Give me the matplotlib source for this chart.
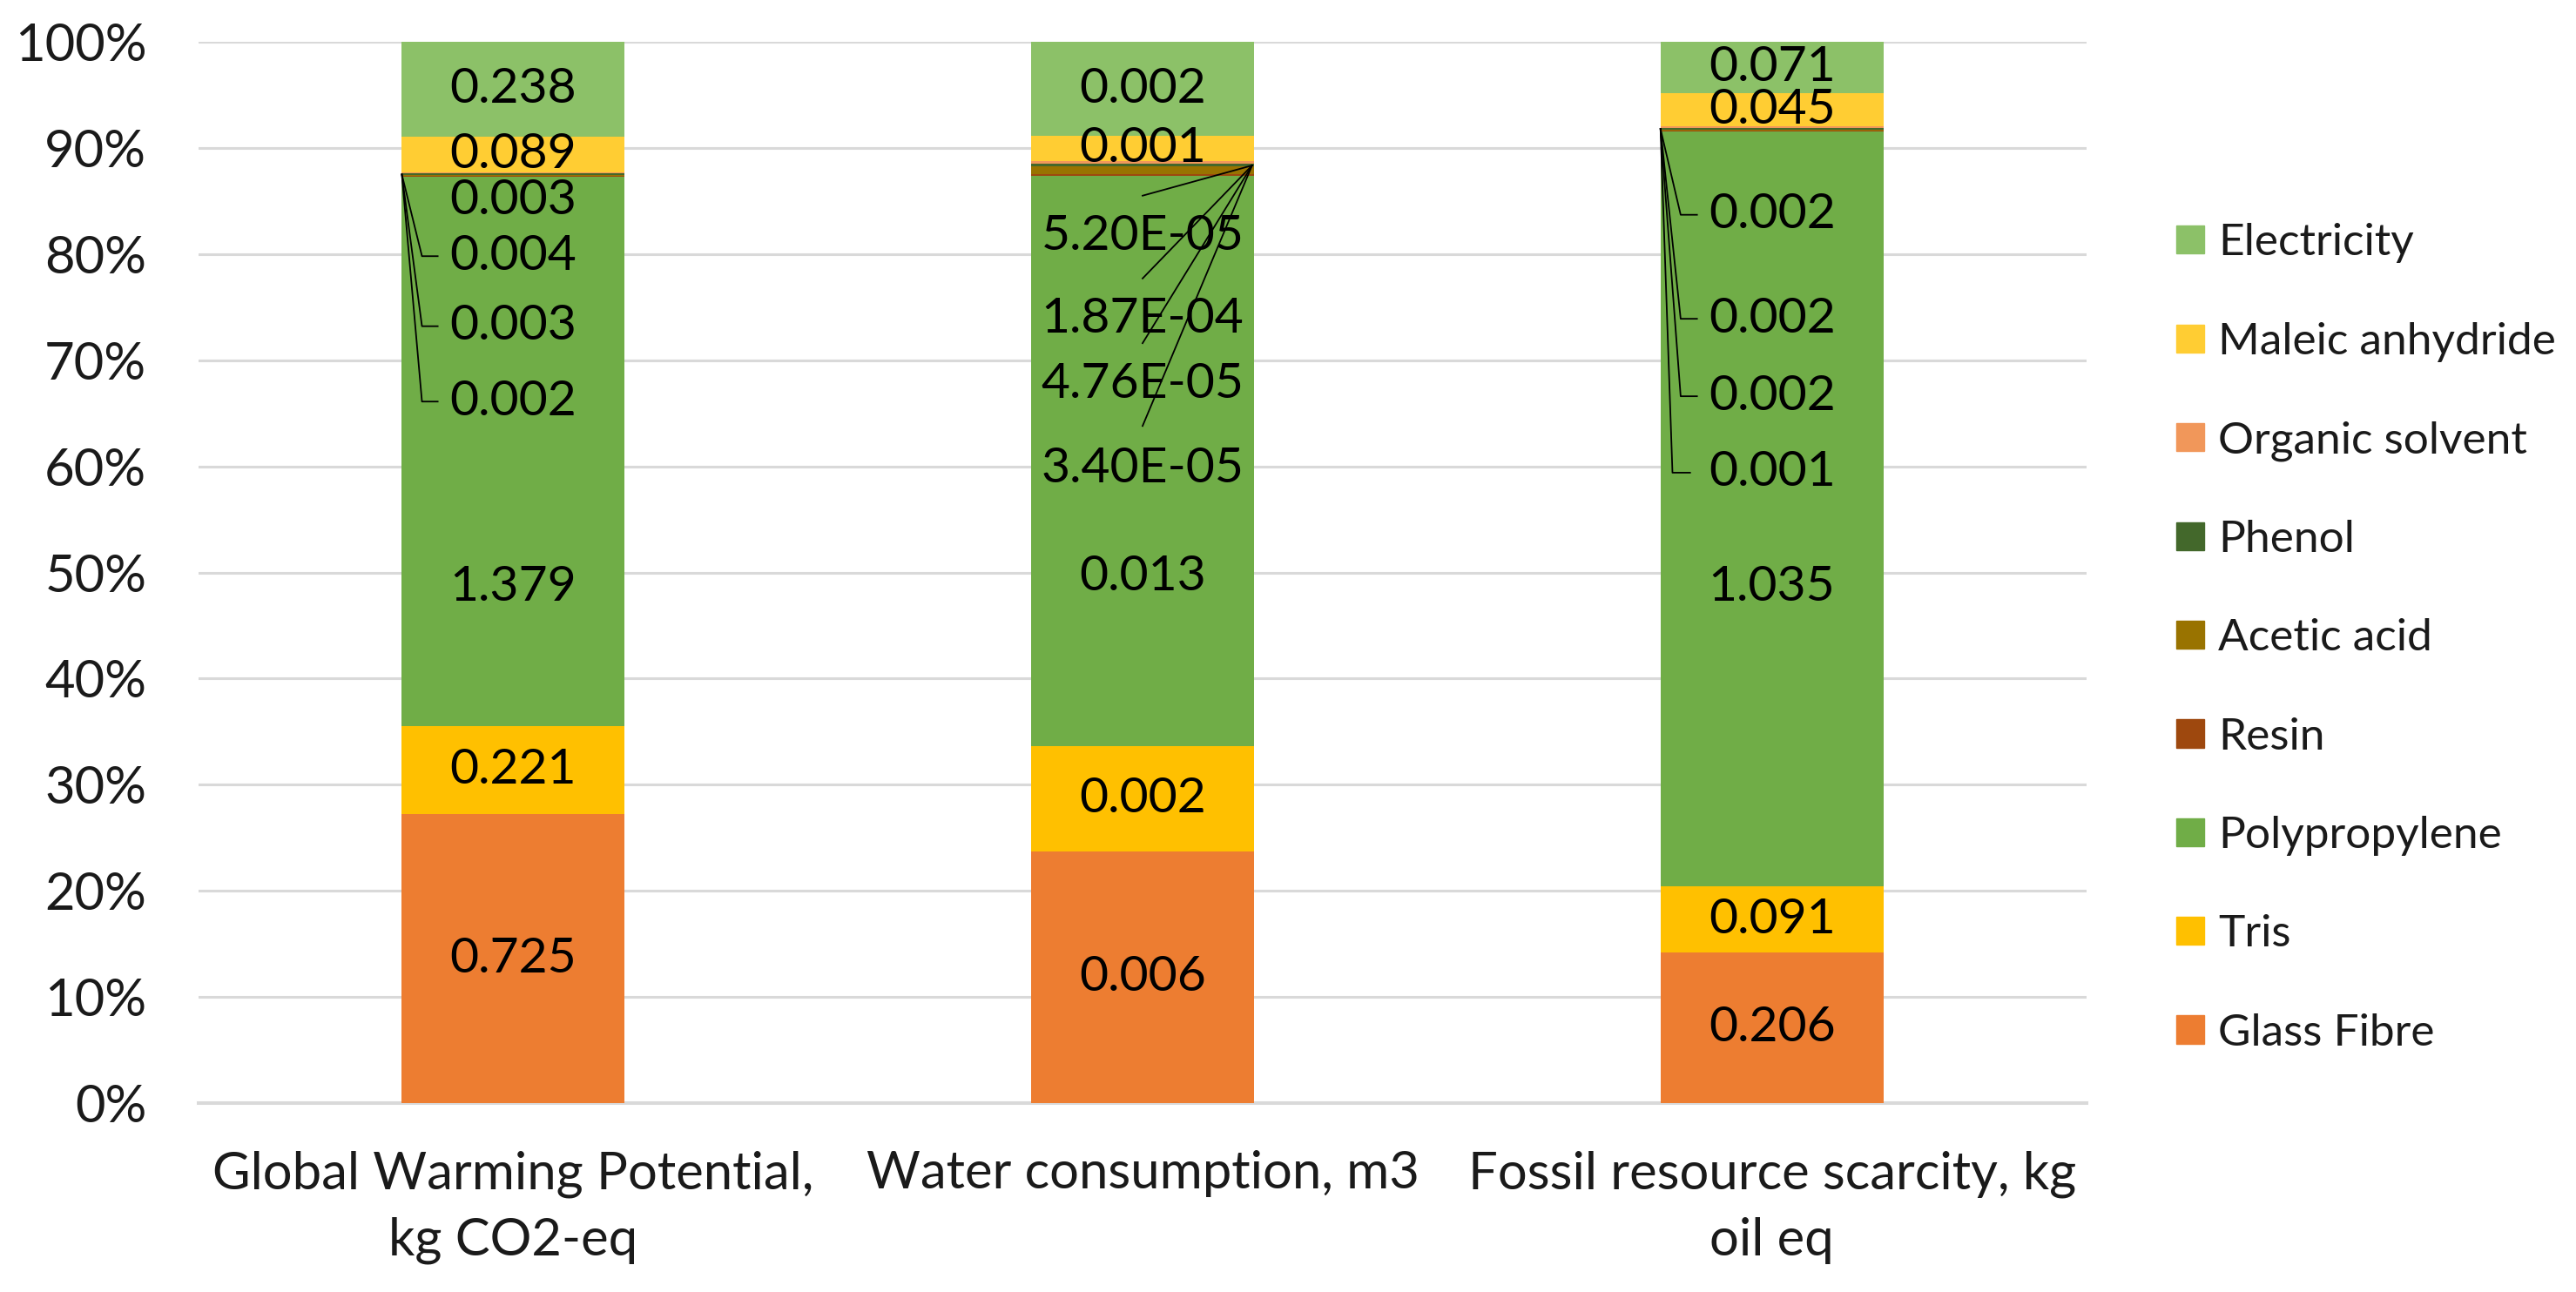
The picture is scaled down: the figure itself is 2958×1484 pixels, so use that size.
import numpy as np
import matplotlib
matplotlib.use("Agg")
import matplotlib.pyplot as plt
from matplotlib.patches import Patch

plt.rcParams['font.family'] = ['Lato', 'DejaVu Sans']

categories = ["Global Warming Potential,\nkg CO2-eq", "Water consumption, m3",
              "Fossil resource scarcity, kg\noil eq"]
series = ["Glass Fibre", "Tris", "Polypropylene", "Resin", "Acetic acid",
          "Phenol", "Organic solvent", "Maleic anhydride", "Electricity"]
colors = ["#ED7D31", "#FFC000", "#70AD47", "#9E480E", "#997300",
          "#43682B", "#F1975A", "#FFCD33", "#8CC168"]

# contributions per impact category, same order as series
gwp = [0.725, 0.221, 1.379, 0.002, 0.003, 0.004, 0.003, 0.089, 0.238]
water = [0.00557, 0.00233, 0.01264, 3.40e-05, 1.87e-04, 4.76e-05, 5.20e-05, 0.00056, 0.00209]
fossil = [0.206, 0.091, 1.035, 0.001, 0.002, 0.002, 0.002, 0.045, 0.071]
data = np.array([gwp, water, fossil])

SMALL = [3, 4, 5, 6]  # resin, acetic acid, phenol, organic solvent
PP = 2

# hand placed label heights (percent) for the moved labels
pp_label_y = [48.6, 49.6, 48.6]
small_label_y = [
    [66.1, 73.2, 79.8, 85.0],
    [59.8, 73.9, 67.7, 81.7],
    [59.4, 66.6, 73.9, 83.7],
]

W, H = 2958, 1484
fig = plt.figure(figsize=(W / 100, H / 100), dpi=100)
ax = fig.add_axes([228 / W, (H - 1267) / H, (2396 - 228) / W, (1267 - 48) / H])

FS = 41
TICK_FS = 43
LEG_FS = 37
TXT = "#1a1a1a"
width = 0.354
x = np.arange(len(categories))
shares = data / data.sum(axis=1, keepdims=True) * 100
bottoms = np.zeros(len(categories))
tops = []
for j, name in enumerate(series):
    ax.bar(x, shares[:, j], width, bottom=bottoms, color=colors[j], label=name, zorder=3)
    bottoms = bottoms + shares[:, j]
    tops.append(bottoms.copy())
tops = np.array(tops)  # series x category


def fmt(v):
    if v < 3e-4:
        return f"{v:.2E}"
    return f"{v:.3f}"


for i in range(len(categories)):
    for j in range(len(series)):
        v = data[i, j]
        if j in SMALL:
            y = small_label_y[i][SMALL.index(j)]
        elif j == PP:
            y = pp_label_y[i]
        else:
            y = tops[j, i] - shares[i, j] / 2
        ax.text(x[i], y, fmt(v), ha="center", va="center", fontsize=FS, color="black", zorder=5)

# leader lines for the tiny segments
lw = 1.3
y0 = (tops[PP] + tops[6]) / 2
# GWP: elbow lines from the left edge
for k in [0, 1, 2]:
    yl = small_label_y[0][k]
    ax.plot([x[0] - width / 2, x[0] - 0.145, x[0] - 0.120], [y0[0], yl, yl],
            color="black", lw=lw, zorder=4)
# Fossil
for k in range(4):
    yl = small_label_y[2][k]
    ex, hx = (-0.158, -0.130) if k == 0 else (-0.145, -0.119)
    ax.plot([x[2] - width / 2, x[2] + ex, x[2] + hx], [y0[2], yl, yl],
            color="black", lw=lw, zorder=4)
# Water: straight lines from the right edge
for yl in [85.5, 77.7, 71.6, 63.8]:
    ax.plot([x[1] + 0.174, x[1]], [y0[1] + 0.3, yl], color="black", lw=lw, zorder=4)

ax.set_xlim(-0.5, 2.5)
ax.set_ylim(0, 100)
ax.set_yticks(np.arange(0, 101, 10))
ax.set_yticklabels([f"{t}%" for t in range(0, 101, 10)])
ax.set_xticks(x)
ax.set_xticklabels(categories, linespacing=1.5)
ax.tick_params(axis="y", length=0, pad=43, labelsize=TICK_FS, labelcolor=TXT)
ax.tick_params(axis="x", length=0, pad=39, labelsize=TICK_FS, labelcolor=TXT)
ax.yaxis.grid(True, color="#D9D9D9", lw=2.2, zorder=0)
ax.set_axisbelow(True)
for s in ["top", "right", "left"]:
    ax.spines[s].set_visible(False)
ax.spines["bottom"].set_color("#D9D9D9")
ax.spines["bottom"].set_linewidth(2.9)

handles = [Patch(color=colors[j], label=series[j]) for j in reversed(range(len(series)))]
fig.legend(handles=handles, loc="center left", bbox_to_anchor=(2499 / W, 1 - 733 / H),
           frameon=False, fontsize=LEG_FS, handlelength=0.63, handleheight=0.59,
           handletextpad=0.31, labelspacing=1.31, borderpad=0, borderaxespad=0,
           labelcolor=TXT)

fig.savefig("out.png", dpi=100)
